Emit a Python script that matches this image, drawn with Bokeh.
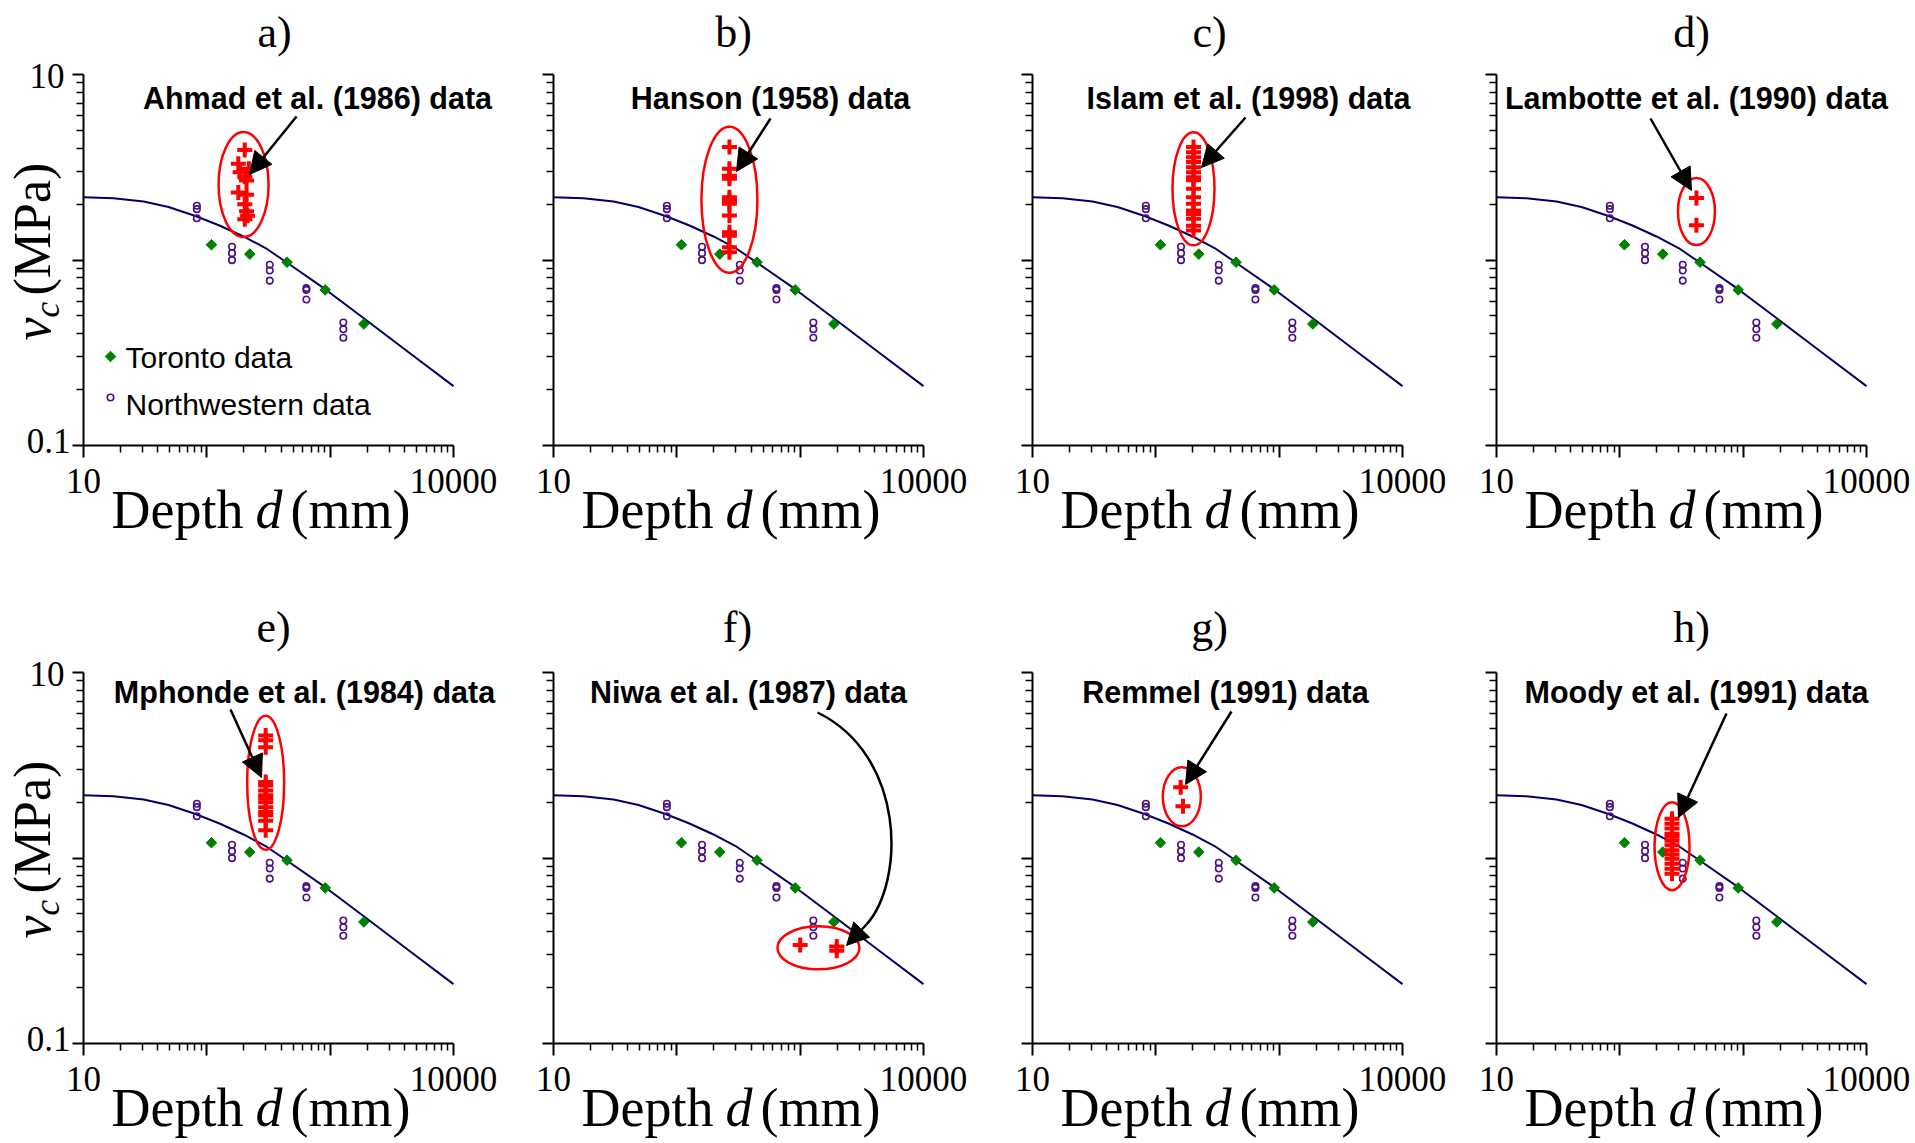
import numpy as np
from bokeh.plotting import figure
from bokeh.models import FixedTicker, Label, Arrow, NormalHead, Range1d
from bokeh.layouts import row, column
from bokeh.embed import file_html
from bokeh.resources import INLINE

# ---------------- data ----------------
curve_d = [10, 17.5, 30.7, 48.9, 80.9, 126.6, 198.3, 299.3, 451, 917, 1861, 4272, 10000]
curve_v = [2.181, 2.151, 2.067, 1.931, 1.727, 1.535, 1.339, 1.160, 0.963, 0.694, 0.487, 0.320, 0.209]

toronto_d = [109, 223, 447, 912, 1875]
toronto_v = [1.208, 1.076, 0.973, 0.690, 0.452]

nw_d = [83, 83, 83, 160, 160, 160, 324, 324, 324, 642, 642, 642, 1279, 1279, 1279]
nw_v = [1.96, 1.88, 1.68, 1.178, 1.089, 0.998, 0.942, 0.878, 0.774,
        0.705, 0.690, 0.612, 0.460, 0.423, 0.381]

panel_letters = ["a)", "b)", "c)", "d)", "e)", "f)", "g)", "h)"]
source_names = ["Ahmad et al. (1986) data", "Hanson (1958) data",
                "Islam et al. (1998) data", "Lambotte et al. (1990) data",
                "Mphonde et al. (1984) data", "Niwa et al. (1987) data",
                "Remmel (1991) data", "Moody et al. (1991) data"]
legend_labels = ["Toronto data", "Northwestern data"]

ahmad_d = [203, 180, 219, 186, 203, 210, 180, 210, 203, 210, 214, 203]
ahmad_v = [3.92, 3.30, 3.10, 2.97, 2.81, 2.68, 2.31, 2.25, 2.00, 1.83, 1.73, 1.66]
hanson_d = [267] * 12
hanson_v = [4.06, 3.10, 2.85, 2.74, 2.18, 2.09, 2.01, 1.74, 1.41, 1.35, 1.17, 1.10]
islam_d = [202] * 16
islam_v = [4.06, 3.81, 3.58, 3.37, 3.16, 2.97, 2.79, 2.69, 2.42, 2.18, 2.01,
           1.85, 1.77, 1.67, 1.53, 1.44]
lambotte_d = [418, 418]
lambotte_v = [2.16, 1.54]
mphonde_d = [300] * 14
mphonde_v = [4.58, 4.31, 3.96, 2.57, 2.46, 2.31, 2.18, 2.09, 2.00, 1.88, 1.77,
             1.70, 1.59, 1.41]
niwa_d = [1000, 1980, 1980]
niwa_v = [0.340, 0.333, 0.316]
remmel_d = [159, 166]
remmel_v = [2.41, 1.90]
moody_d = [265] * 13
moody_v = [1.63, 1.53, 1.44, 1.35, 1.30, 1.24, 1.17, 1.10, 1.045, 0.991, 0.931,
           0.875, 0.822]

red_sets = [(ahmad_d, ahmad_v), (hanson_d, hanson_v), (islam_d, islam_v),
            (lambotte_d, lambotte_v), (mphonde_d, mphonde_v), (niwa_d, niwa_v),
            (remmel_d, remmel_v), (moody_d, moody_v)]

x_major = [10, 100, 1000, 10000]
y_major = [0.1, 1, 10]
x_tick_text = ["10", "", "", "10000"]
y_tick_text = ["0.1", "", "10"]

# ---------------- layout / style ----------------
DEC_X, DEC_Y = 370 / 3.0, 371 / 2.0          # px per decade
frame_left = [83, 553, 1032, 1496]
cell_left = [71, 533, 1012, 1476]
cell_right = [533, 1012, 1476, 1911]
cell_top = [0, 560]
frame_bottom = [445, 1043]
BB = 15                                        # room for ticks under the frame
strip_h = [100, 83]

ell_size = [(50, 105), (56, 146), (42, 113), (37, 67), (37, 134), (82, 43), (38, 59), (35, 88)]
arrows = [((213, 329), (166, 271)), ((217, 327), (183, 274)), ((213, 328), (169, 278)),
          ((154, 327), (195, 255)), ((147, 334), (178, 266)), ((313, 119), (293, 98)),
          ((199, 332), (153, 259)), ((230, 330), (182, 226))]
text_cx = [234, 217, 216, 200, 221, 195, 193, 200]
title_cx = [191, 180, 177, 195, 190, 184, 177, 195]
text_base = [337, 341]
title_base = [398, 401]

minor_x = [k * 10.0 ** e for e in (1, 2, 3) for k in range(2, 10)]
minor_y = [k * 10.0 ** e for e in (-1, 0) for k in range(2, 10)]

SERIF = "Liberation Serif"
SANS = "Liberation Sans"
MID = {SERIF: 0.3375, SANS: 0.3465}          # baseline -> middle of the text box (em)
NAVY, GREEN, PURPLE, RED = "#000066", "#008000", "#4b0f86", "#ff0000"


def frame_to_data(rx, ry):
    return 10 ** (1 + rx / DEC_X), 10 ** (-1 + ry / DEC_Y)


def lab(p, x, y, text, size, font=SERIF, style="normal", align="left", rotated=False,
        units="screen"):
    """x, y give the position of the text's baseline (y counted upward)."""
    off = MID[font] * float(size.rstrip("px"))
    if rotated:
        x, angle = x - off, np.pi / 2
    else:
        y, angle = y + off, 0.0
    p.add_layout(Label(x=x, y=y, x_units=units, y_units=units, text=text,
                       text_font=font, text_font_size=size, text_font_style=style,
                       text_align=align, text_baseline="middle",
                       text_color="black", angle=angle))


def make_panel(i):
    r, c = divmod(i, 4)
    fw = cell_right[c] - frame_left[c]
    fh = frame_bottom[r] - cell_top[r]
    bl = frame_left[c] - cell_left[c]
    p = figure(width=cell_right[c] - cell_left[c], height=fh + BB,
               x_axis_type="log", y_axis_type="log",
               x_range=Range1d(10, 10 ** (1 + fw / DEC_X)),
               y_range=Range1d(0.1, 10 ** (-1 + fh / DEC_Y)),
               output_backend="svg", toolbar_location=None,
               min_border_left=bl, min_border_right=0,
               min_border_top=0, min_border_bottom=BB)
    p.outline_line_color = None
    p.grid.visible = False

    xa, ya = p.xaxis[0], p.yaxis[0]
    xa.ticker = FixedTicker(ticks=x_major, minor_ticks=minor_x)
    ya.ticker = FixedTicker(ticks=y_major, minor_ticks=minor_y)
    xa.bounds = (10, 10000)
    ya.bounds = (0.1, 10)
    for ax, majors, tout in ((xa, x_major, 12), (ya, y_major, 11)):
        ax.major_label_overrides = {k: "" for k in majors}
        ax.major_label_text_font_size = "0px"
        ax.major_label_standoff = 0
        ax.axis_line_width = 2
        ax.axis_line_color = "black"
        ax.major_tick_in = 0
        ax.major_tick_out = tout
        ax.minor_tick_in = 0
        ax.minor_tick_out = 7
        ax.major_tick_line_width = 2
        ax.minor_tick_line_width = 1.5

    # curve and reference data
    p.line(curve_d, curve_v, line_color=NAVY, line_width=2)
    p.scatter(toronto_d, toronto_v, marker="square", angle=np.pi / 4,
              size=7.5, fill_color=GREEN, line_color=GREEN)
    p.scatter(nw_d, nw_v, marker="circle", size=6.5, fill_color=None,
              line_color=PURPLE, line_width=1.6)

    # highlighted data set
    rd, rv = red_sets[i]
    p.scatter(rd, rv, marker="cross", size=15, line_color=RED, line_width=4)
    lx, lv = np.log10(rd), np.log10(rv)
    cx = 10 ** ((lx.min() + lx.max()) / 2)
    cy = 10 ** ((lv.min() + lv.max()) / 2)
    w, h = ell_size[i]
    p.ellipse(x=[cx], y=[cy], width=w, height=h, width_units="screen",
              height_units="screen", fill_color=None, line_color=RED, line_width=2.5)

    # arrow
    (sx, sy), (ex, ey) = arrows[i]
    if i == 5:
        x0, y0 = frame_to_data(264, 331)
        c0x, c0y = frame_to_data(352, 288)
        c1x, c1y = frame_to_data(352, 163)
        x1, y1 = frame_to_data(313, 119)
        p.bezier(x0=[x0], y0=[y0], x1=[x1], y1=[y1], cx0=[c0x], cy0=[c0y],
                 cx1=[c1x], cy1=[c1y], line_color="black", line_width=2.5)
    p.add_layout(Arrow(end=NormalHead(size=22, fill_color="black", line_color="black"),
                       x_start=sx, y_start=sy, x_end=ex, y_end=ey,
                       start_units="screen", end_units="screen",
                       line_color="black", line_width=2.5))

    lab(p, text_cx[i], text_base[r], source_names[i], "30.5px", font=SANS,
        style="bold", align="center")
    lab(p, title_cx[i], title_base[r], panel_letters[i], "44px", align="center")

    if i == 0:   # legend
        tx, ty = frame_to_data(27, 89)
        nx, ny = frame_to_data(27, 48)
        p.scatter([tx], [ty], marker="square", angle=np.pi / 4, size=7.5,
                  fill_color=GREEN, line_color=GREEN)
        p.scatter([nx], [ny], marker="circle", size=6.5, fill_color=None,
                  line_color=PURPLE, line_width=1.6)
        lab(p, 42, 78, legend_labels[0], "30px", font=SANS)
        lab(p, 42, 31, legend_labels[1], "30px", font=SANS)
    return p


def strip(width, height):
    s = figure(width=width, height=height, x_range=Range1d(0, width),
               y_range=Range1d(0, height),
               x_axis_location=None, y_axis_location=None, min_border=0,
               min_border_left=0, min_border_right=0, min_border_top=0,
               min_border_bottom=0, output_backend="svg", toolbar_location=None)
    s.outline_line_color = None
    s.grid.visible = False
    try:                       # keep this text strip's frame = its whole canvas
        s.frame_align = False
    except Exception:
        pass
    return s


def bottom_strip(r):
    H = strip_h[r]
    s = strip(cell_right[-1], H)
    top = frame_bottom[r] + BB
    tick_base = H - (frame_bottom[r] + 47 - top)
    lab_base = H - (frame_bottom[r] + 83 - top)
    for c in range(4):
        for k, txt in enumerate(x_tick_text):
            if txt:
                lab(s, frame_left[c] + DEC_X * np.log10(x_major[k] / 10), tick_base,
                    txt, "35px", align="center")
        for txt, dx, style in (("Depth", 28, "normal"), ("d", 172, "italic"),
                               ("(mm)", 207, "normal")):
            lab(s, frame_left[c] + dx, lab_base, txt, "54px", style=style)
    return s


def left_strip(r):
    H = frame_bottom[r] + BB - cell_top[r]
    s = strip(cell_left[0], H)
    for k, txt in enumerate(y_tick_text):
        if txt:
            ytick = BB + DEC_Y * np.log10(y_major[k] / 0.1)
            if txt == "10":
                lab(s, 64, ytick - 13, txt, "35px", align="right")
            else:
                lab(s, 70, ytick - 7, txt, "35px", align="right")
    for txt, xx, yy, size, style in (("v", 50, BB + 105, "52px", "italic"),
                                     ("c", 59, BB + 128, "35px", "italic"),
                                     ("(MPa)", 50, BB + 150, "52px", "normal")):
        lab(s, xx, yy, txt, size, style=style, rotated=True)
    return s


panels = [make_panel(i) for i in range(8)]
layout = column(row(left_strip(0), *panels[:4]), bottom_strip(0),
                row(left_strip(1), *panels[4:]), bottom_strip(1))
open("out.html", "w").write(file_html(layout, INLINE))
